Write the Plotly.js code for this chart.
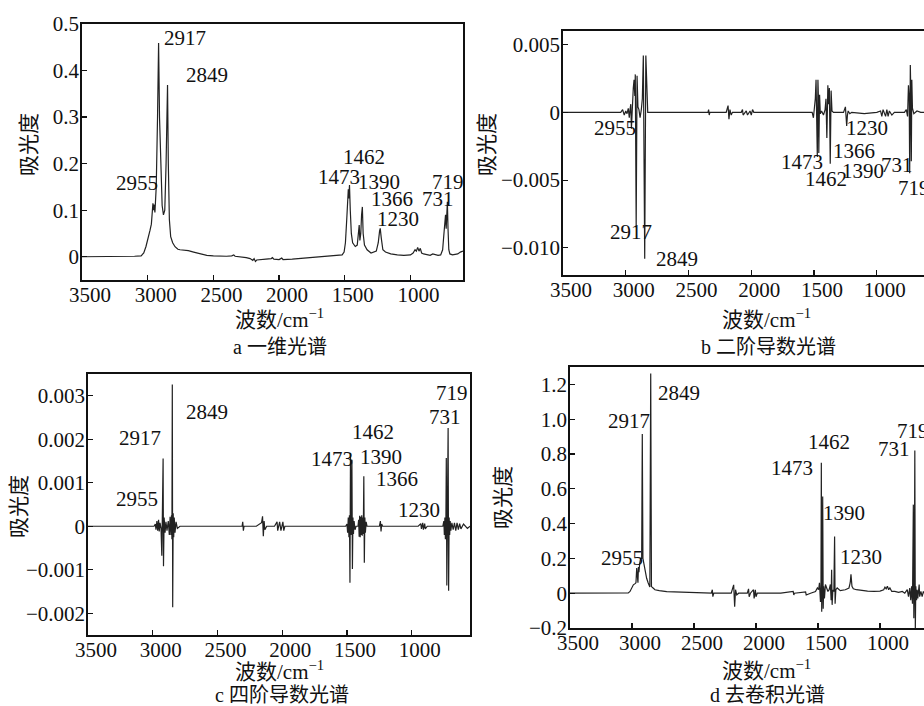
<!DOCTYPE html>
<html>
<head>
<meta charset="utf-8">
<script src="https://cdn.plot.ly/plotly-3.0.1.min.js"></script>
<style>html,body{margin:0;padding:0;background:#fff;}#chart{width:924px;height:706px;}</style>
</head>
<body>
<div id="chart"></div>
<script>
// ---------- data (wavenumber / cm-1, absorbance) ----------
const xTicks = [3500, 3000, 2500, 2000, 1500, 1000];
const xTickText = ['3500', '3000', '2500', '2000', '1500', '1000'];

// a: one-dimensional spectrum
const aWn = [3500,3400,3300,3200,3100,3050,3030,3013,3000,2990,2982,2972,2965,2960,2956,2952,2945,2935,2925,2917,2910,2900,2890,2880,2870,2860,2849,2843,2835,2825,2810,2792,2770,2754,2720,2691,2650,2600,2550,2500,2450,2400,2360,2345,2335,2300,2250,2220,2200,2190,2180,2170,2150,2100,2060,2050,2040,2000,1980,1970,1900,1800,1700,1600,1550,1520,1505,1495,1485,1478,1473,1469,1464,1458,1450,1440,1420,1405,1395,1390,1385,1378,1372,1366,1360,1350,1330,1300,1260,1245,1235,1230,1222,1210,1190,1170,1150,1100,1050,1000,980,965,955,945,935,925,915,900,870,850,830,810,790,770,755,745,738,733,728,723,719,714,708,700,680,660,640,620,600];
const aAbs = [0,0,0,0,0.001,0.002,0.008,0.022,0.040,0.050,0.057,0.070,0.095,0.115,0.100,0.112,0.095,0.15,0.30,0.459,0.30,0.17,0.11,0.090,0.10,0.20,0.369,0.20,0.08,0.043,0.030,0.0215,0.016,0.015,0.014,0.013,0.010,0.006,0.003,0.002,0.001,0.001,0.002,0.004,0.001,0.000,-0.002,-0.004,-0.008,-0.004,-0.010,-0.007,-0.006,-0.005,-0.004,-0.002,-0.005,-0.006,-0.003,-0.006,-0.005,-0.003,-0.001,0.001,0.002,0.004,0.010,0.030,0.080,0.125,0.145,0.125,0.154,0.100,0.050,0.030,0.022,0.025,0.050,0.068,0.035,0.050,0.090,0.107,0.050,0.025,0.015,0.008,0.012,0.030,0.055,0.061,0.040,0.015,0.010,0.008,0.006,0.004,0.003,0.004,0.008,0.015,0.012,0.020,0.012,0.018,0.008,0.006,0.004,0.003,0.006,0.004,0.003,0.004,0.015,0.050,0.085,0.090,0.060,0.100,0.118,0.060,0.015,0.006,0.004,0.005,0.006,0.010,0.012];

// b: second-derivative spectrum
const bWn = [3500,3300,3100,3040,3025,3012,3000,2990,2980,2972,2966,2960,2955,2948,2940,2934,2928,2924,2917,2910,2903,2895,2886,2876,2868,2860,2849,2840,2832,2825,2800,2500,2345,2340,2335,2330,2200,2185,2178,2170,2160,2150,2080,2070,2065,2040,2030,2010,2000,1990,1980,1600,1515,1505,1497,1490,1484,1478,1474,1469,1465,1462,1456,1450,1440,1425,1412,1405,1398,1390,1385,1378,1371,1364,1357,1345,1300,1265,1250,1240,1234,1228,1215,1200,1100,1000,970,960,950,930,920,910,900,880,860,780,765,755,748,742,738,733,729,725,721,716,705,680,650,624];
const bVal = [0,0,0,0,0.0002,-0.0002,0.0001,-0.0001,0.0003,-0.0004,0.0002,0.0006,-0.0012,0.0005,0.0018,0.0024,0.0012,0.0028,-0.0085,0.0027,0.0004,0.0002,-0.0004,0.0002,0.0010,0.0042,-0.0108,0.0042,0.0008,0,0,0,0,0.0002,-0.0002,0,0,0.0005,-0.0005,0.0002,-0.0002,0,0,0.0002,-0.0002,0.0001,-0.0002,0.0001,-0.0002,0.0002,0,0,0,-0.0004,0.0002,0.0010,0.0024,-0.0010,-0.0033,0.0024,0.0010,-0.0030,0.0013,-0.0001,0.0001,-0.0002,0.0002,0.0010,-0.0019,0.0020,0.0006,0.0018,-0.0038,0.0016,0.0001,0,0,0,0.0004,-0.0010,-0.0002,0.0001,-0.0001,0,-0.0001,0,0.0001,-0.0003,0.0002,-0.0003,0.0002,-0.0003,0.0001,-0.0002,0,0,0.0002,-0.0003,0.0020,0.0011,-0.0045,0.0035,0.0014,-0.0036,0.0024,0.0003,-0.0001,0.0001,0,0];

// c: fourth-derivative spectrum
const cWn = [3500,3300,3100,2990,2980,2975,2968,2962,2955,2950,2944,2936,2930,2926,2920,2917,2912,2905,2898,2890,2880,2872,2866,2860,2855,2852,2849,2846,2842,2838,2834,2828,2820,2810,2790,2400,2310,2305,2300,2295,2200,2160,2152,2146,2140,2134,2120,2060,2040,2035,2020,2010,1995,1988,1980,1700,1510,1500,1495,1490,1485,1481,1477,1473,1469,1466,1462,1458,1454,1450,1445,1438,1430,1415,1410,1406,1402,1398,1394,1390,1386,1382,1378,1374,1370,1366,1362,1358,1352,1345,1250,1242,1237,1232,1225,950,930,925,915,910,900,895,880,800,760,752,748,744,740,736,733,729,726,723,719,715,711,707,703,698,690,680,670,660,650,640,630,620,600,570,550];
const cVal = [0,0,0,0,0.00005,-0.00008,0.00012,-0.00010,0.00015,-0.00012,0.00008,-0.00005,-0.00068,0.0001,0.00156,-0.00092,0.0002,-0.00015,0.0001,-0.0001,0.00012,-0.0002,0.00022,-0.0002,0.00025,-0.0003,0.00326,-0.00186,0.0003,-0.00025,0.0002,-0.00015,0.0001,-0.00005,0,0,0,0.0001,-0.0001,0,0,0.00008,0.00023,-0.00023,0.00012,-0.00008,0,0,0.0001,-0.0001,0.0001,-0.0001,0.0001,-0.0001,0,0,0,0.00005,-0.00015,0.0002,-0.00025,0.00025,-0.0013,0.00168,-0.0002,0.0002,0.00153,-0.00098,0.0002,-0.00018,0.00012,-0.00008,0,0,0.00015,-0.00024,0.00024,-0.00025,0.00022,-0.0002,0.00025,-0.00022,0.0002,-0.00018,0.00115,-0.00084,0.0002,-0.00015,0.0001,0,0,0.00012,-0.00012,0.00005,0,0,0.00006,-0.00006,0.00008,-0.00008,0.00006,-0.00006,0,0,0,0.00012,-0.0002,0.0002,-0.0003,0.0002,0.00157,-0.00136,0.00025,-0.0002,0.00226,-0.00148,0.0002,-0.0002,0.00012,-0.0001,0.00008,-0.00008,0.00008,-0.0001,0.00008,-0.00008,0.00006,-0.00006,0.00005,-0.00005,0];

// d: deconvolved spectrum
const dWn = [3500,3300,3100,3030,3016,3000,2989,2975,2968,2962,2958,2952,2948,2944,2938,2930,2922,2917,2912,2903,2890,2882,2870,2863,2856,2849,2843,2830,2815,2780,2720,2600,2452,2360,2352,2348,2340,2200,2180,2172,2165,2155,2140,2070,2060,2055,2045,2020,2015,2005,2000,1990,1800,1700,1695,1690,1600,1595,1560,1520,1505,1495,1488,1480,1476,1473,1470,1466,1462,1458,1454,1448,1440,1430,1420,1410,1400,1394,1390,1386,1380,1372,1366,1362,1356,1345,1320,1280,1250,1240,1234,1226,1215,1190,1150,1100,1050,1000,970,960,950,940,930,920,905,880,850,820,800,780,770,760,752,745,738,731,727,723,719,715,711,705,700,695,690,684,680,670,660,650,645];
const dVal = [0,0,0,0.002,0.010,0.035,0.048,0.055,0.060,0.145,0.065,0.06,0.15,0.12,0.17,0.20,0.20,0.915,0.20,0.163,0.12,0.086,0.06,0.048,0.035,1.262,0.038,0.03,0.020,0.015,0.009,0.006,0.002,0.001,0.02,-0.02,0,0,0.048,-0.077,0.02,-0.01,0,0,0.025,-0.02,0,0.02,-0.03,0.02,-0.02,0,0,0.01,-0.01,0,0.008,-0.01,0,0.01,0.03,0.02,0.06,-0.05,0.03,0.749,-0.106,0.05,0.556,-0.09,0.04,-0.03,0.05,0.03,0.01,0.02,0.05,-0.04,0.134,-0.067,0.02,0.01,0.326,-0.06,0.02,0.03,0.015,0.02,0.03,0.06,0.109,0.04,0.025,0.02,0.015,0.012,0.01,0.012,0.02,0.035,0.025,0.04,0.02,0.03,0.01,0.01,0.005,0.01,0.0,0.02,-0.02,0.03,-0.04,0.04,-0.06,0.509,-0.144,0.05,0.82,-0.21,0.04,-0.04,0.02,-0.03,0.02,0.05,-0.02,0.01,-0.02,0.01,0];

// peak labels (text, anchored at wavenumber / absorbance values)
const aPeakText = ['2917','2849','2955','1462','1473','1390','1366','1230','719','731'];
const aPeakWn   = [2716,2551,3081,1353,1541,1242,1138,1097,716,788];
const aPeakAbs  = [0.4697,0.391,0.159,0.2137,0.1707,0.161,0.1234,0.081,0.161,0.1234];

const bPeakText = ['2955','2917','2849','1230','1366','1473','1462','1390','731','719'];
const bPeakWn   = [3083,2958,2593,1076,1182,1594,1405,1110,837,701];
const bPeakVal  = [-0.00118,-0.00883,-0.0108,-0.00118,-0.00284,-0.0037,-0.00493,-0.00432,-0.00388,-0.00555];

const cPeakText = ['2849','2917','2955','1462','1473','1390','1366','1230','719','731'];
const cPeakWn   = [2583,3098,3119,1297,1616,1240,1116,944,687,746];
const cPeakVal  = [0.002638,0.002028,0.000628,0.002156,0.001546,0.001592,0.001087,0.000383,0.00306,0.00251];

const dPeakText = ['2849','2917','2955','1462','1473','1390','1230','731','719'];
const dPeakWn   = [2618,3027,3081,1414,1710,1290,1156,889,734];
const dPeakVal  = [1.152,0.9885,0.2016,0.8676,0.72,0.461,0.207,0.8295,0.931];

const yTitle = '吸光度';
const xTitle = '波数/cm<sup>−1</sup>';
const captions = ['a 一维光谱', 'b 二阶导数光谱', 'c 四阶导数光谱', 'd 去卷积光谱'];

// ---------- figure ----------
const W = 924, H = 706;
const px = v => v / W;
const py = v => 1 - v / H;
const serif = '"Liberation Serif", "Times New Roman", Times, serif';
const numFont = {family: serif, size: 21, color: '#111'};
const cjkFont = {family: '"Liberation Serif", "Noto Sans CJK SC", serif', size: 21, color: '#111'};
const capFont = {family: '"Liberation Serif", "Noto Sans CJK SC", serif', size: 20, color: '#111'};
const lineStyle = {color: '#222', width: 1.2};

function trace(x, y, n) {
  return {x: x, y: y, type: 'scatter', mode: 'lines', line: lineStyle,
          xaxis: 'x' + (n === 1 ? '' : n), yaxis: 'y' + (n === 1 ? '' : n),
          hoverinfo: 'skip', showlegend: false};
}

function xAxis(n, domain, range) {
  const s = n === 1 ? '' : String(n);
  return {anchor: 'y' + s, domain: domain, range: range, tickvals: xTicks, ticktext: xTickText,
          ticks: 'inside', ticklen: 5, tickwidth: 1.2, tickcolor: '#111',
          showline: true, linecolor: '#111', linewidth: 1.8, mirror: true,
          showgrid: false, zeroline: false, tickfont: numFont,
          ticklabelshift: -8, ticklabelstandoff: -5};
}
function yAxis(n, domain, range, vals, text, mirror) {
  const s = n === 1 ? '' : String(n);
  return {anchor: 'x' + s, domain: domain, range: range, tickvals: vals, ticktext: text,
          ticks: 'inside', ticklen: 5, tickwidth: 1.2, tickcolor: '#111',
          showline: true, linecolor: '#111', linewidth: 1.8, mirror: mirror,
          showgrid: false, zeroline: false, tickfont: numFont, ticklabelstandoff: -3};
}

const annotations = [];
function addPeaks(texts, xs, ys, n) {
  const s = n === 1 ? '' : String(n);
  texts.forEach((t, i) => annotations.push({
    text: t, x: xs[i], y: ys[i], xref: 'x' + s, yref: 'y' + s,
    showarrow: false, xanchor: 'center', yanchor: 'middle', font: numFont}));
}
addPeaks(aPeakText, aPeakWn, aPeakAbs, 1);
addPeaks(bPeakText, bPeakWn, bPeakVal, 2);
addPeaks(cPeakText, cPeakWn, cPeakVal, 3);
addPeaks(dPeakText, dPeakWn, dPeakVal, 4);

function paperText(t, x, y, angle, font) {
  annotations.push({text: t, x: px(x), y: py(y), xref: 'paper', yref: 'paper',
    showarrow: false, xanchor: 'center', yanchor: 'middle', textangle: angle || 0,
    font: font || cjkFont});
}
paperText(yTitle, 29, 145, -90);
paperText(yTitle, 487, 145, -90);
paperText(yTitle, 19, 507, -90);
paperText(yTitle, 503, 498, -90);
paperText(xTitle, 279, 318, 0);
paperText(xTitle, 766, 318, 0);
paperText(xTitle, 279, 670, 0);
paperText(xTitle, 766, 669, 0);
paperText(captions[0], 280, 347, 0, capFont);
paperText(captions[1], 768, 347, 0, capFont);
paperText(captions[2], 282, 695, 0, capFont);
paperText(captions[3], 767, 695, 0, capFont);

const layout = {
  width: W, height: H, margin: {l: 0, r: 0, t: 0, b: 0},
  paper_bgcolor: '#fff', plot_bgcolor: '#fff', showlegend: false,
  xaxis:  xAxis(1, [px(82), px(463)], [3500, 600]),
  yaxis:  yAxis(1, [py(280), py(24)], [-0.05, 0.5], [0, 0.1, 0.2, 0.3, 0.4, 0.5], ['0', '0.1', '0.2', '0.3', '0.4', '0.5'], true),
  xaxis2: xAxis(2, [px(563), 1], [3500, 624]),
  yaxis2: yAxis(2, [py(275), py(31)], [-0.012, 0.006], [-0.010, -0.005, 0, 0.005], ['−0.010', '−0.005', '0', '0.005'], false),
  xaxis3: xAxis(3, [px(88), px(470)], [3500, 550]),
  yaxis3: yAxis(3, [py(635), py(374)], [-0.0025, 0.0035], [-0.002, -0.001, 0, 0.001, 0.002, 0.003], ['−0.002', '−0.001', '0', '0.001', '0.002', '0.003'], true),
  xaxis4: xAxis(4, [px(570), 1], [3500, 645]),
  yaxis4: yAxis(4, [py(628), py(367)], [-0.2, 1.3], [-0.2, 0, 0.2, 0.4, 0.6, 0.8, 1.0, 1.2], ['−0.2', '0', '0.2', '0.4', '0.6', '0.8', '1.0', '1.2'], false),
  annotations: annotations
};

Plotly.newPlot('chart', [trace(aWn, aAbs, 1), trace(bWn, bVal, 2), trace(cWn, cVal, 3), trace(dWn, dVal, 4)], layout, {staticPlot: true, displayModeBar: false});
</script>
</body>
</html>
